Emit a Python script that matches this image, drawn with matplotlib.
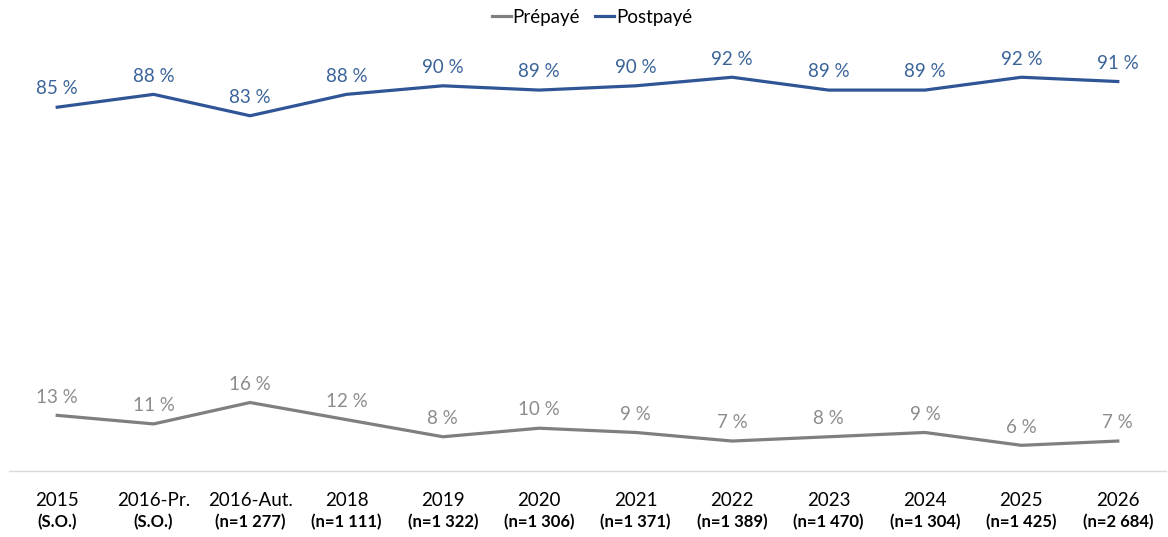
import matplotlib
matplotlib.use('Agg')
import matplotlib.pyplot as plt

periods = ['2015', '2016-Pr.', '2016-Aut.', '2018', '2019', '2020', '2021',
           '2022', '2023', '2024', '2025', '2026']
samples = ['(S.O.)', '(S.O.)', '(n=1 277)', '(n=1 111)', '(n=1 322)', '(n=1 306)',
           '(n=1 371)', '(n=1 389)', '(n=1 470)', '(n=1 304)', '(n=1 425)', '(n=2 684)']
prepaye = [13, 11, 16, 12, 8, 10, 9, 7, 8, 9, 6, 7]
postpaye = [85, 88, 83, 88, 90, 89, 90, 92, 89, 89, 92, 91]

blue = '#2F5597'
blue_lbl = '#3A6399'
grey = '#7F7F7F'
grey_lbl = '#8C8C8C'

plt.rcParams['font.family'] = ['Lato', 'DejaVu Sans']

fig = plt.figure(figsize=(11.68, 5.37), dpi=100)
ax = fig.add_axes([9/1168, 1-471/537, (1166-9)/1168, (471-43)/537])

x = list(range(len(periods)))
ax.plot(x, prepaye, color=grey, lw=2.3, label='Prépayé', solid_joinstyle='round')
ax.plot(x, postpaye, color=blue, lw=2.3, label='Postpayé', solid_joinstyle='round')

for i in x:
    ax.annotate(f'{prepaye[i]} %', (i, prepaye[i]), xytext=(0, 7), textcoords='offset points',
                ha='center', va='bottom', fontsize=13.5, color=grey_lbl)
    ax.annotate(f'{postpaye[i]} %', (i, postpaye[i]), xytext=(0, 7), textcoords='offset points',
                ha='center', va='bottom', fontsize=13.5, color=blue_lbl)
    ax.annotate(periods[i], (i, 0), xycoords=('data', 'axes fraction'), xytext=(0, -30),
                textcoords='offset pixels', ha='center', va='center', fontsize=13.5, color='black')
    ax.annotate(samples[i], (i, 0), xycoords=('data', 'axes fraction'), xytext=(0, -51),
                textcoords='offset pixels', ha='center', va='center', fontsize=12,
                fontweight='bold', color='black')

ax.set_xlim(-0.5, len(periods) - 0.5)
ax.set_ylim(0, 100)
ax.set_xticks(x)
ax.set_xticklabels([])
ax.tick_params(length=0)
ax.set_yticks([])
for s in ['top', 'right', 'left']:
    ax.spines[s].set_visible(False)
ax.spines['bottom'].set_color('#D9D9D9')
ax.spines['bottom'].set_linewidth(1)

fig.legend(loc='center', bbox_to_anchor=(592/1168, 1-17/537), ncol=2, frameon=False,
           fontsize=13.5, handlelength=1.0, handletextpad=0.1, columnspacing=0.8)

fig.savefig('out.png', dpi=100)
